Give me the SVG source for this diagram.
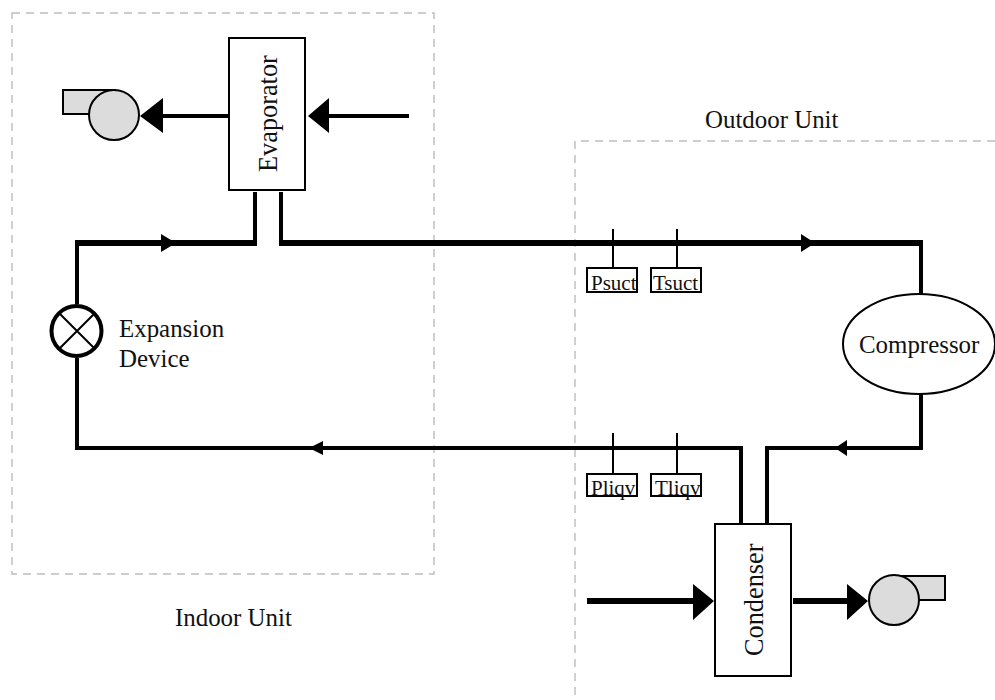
<svg xmlns="http://www.w3.org/2000/svg" width="995" height="700" viewBox="0 0 995 700">
<style>
text{font-family:"Liberation Serif","Times New Roman",serif;fill:#111}
.l{font-size:24.9px}
.r{font-size:26.3px}
.s{font-size:21px}
.b{fill:#fff;stroke:#000;stroke-width:2}
.d{fill:none;stroke:#bdbdbd;stroke-width:1.4;stroke-dasharray:8 6}
.p{fill:none;stroke:#000;stroke-width:4}
.h{fill:none;stroke:#000;stroke-width:6}
.f{fill:#dcdcdc;stroke:#000;stroke-width:2}
.t{fill:none;stroke:#000;stroke-width:2}
</style>
<rect width="995" height="700" fill="#fff"/>
<g id="indoor-unit"><rect class="d" x="12" y="13" width="422" height="561"/><text class="l" x="175" y="626">Indoor Unit</text></g>
<g id="outdoor-unit"><path class="d" d="M575 695V141H995"/><text class="l" x="705" y="128">Outdoor Unit</text></g>
<g id="connectors">
<path class="p" d="M255 192V243M77 243V304M77 358V448H741V523"/>
<path class="p" d="M281 192V243M921 243V294M921 394V448H767V523"/>
<path class="h" d="M75 243H257M279 243H923"/>
<path class="p" d="M229 116H160M409 116H329"/>
<path class="h" d="M587 601H695M793 601H849"/>
<path d="M140 116L163 98V133ZM308 116L329 98V133ZM714 601L693 584V620ZM868 601L847 584V620Z"/>
<path d="M176 243L161 234V252ZM815 243L801 234V252ZM309 448L323 441V455ZM835 448L847 440V456Z"/>
<path class="t" d="M613 229V268M677 229V268M613 433V474M677 433V474"/>
</g>
<g id="evaporator"><rect class="b" x="229" y="38" width="76" height="152"/><text class="r" transform="translate(277 172) rotate(-90)">Evaporator</text></g>
<g id="condenser"><rect class="b" x="715" y="524" width="76" height="152"/><text class="r" transform="translate(763 656) rotate(-90)">Condenser</text></g>
<g id="compressor"><ellipse class="b" cx="919" cy="344" rx="76" ry="50"/><text class="l" x="859" y="353">Compressor</text></g>
<g id="expansion-device"><circle cx="76.500" cy="331" r="25" fill="#fff" stroke="#000" stroke-width="4"/><path class="t" d="M59 313L95 349M95 313L59 349"/><text class="l" x="119" y="337">Expansion</text><text class="l" x="119" y="367">Device</text></g>
<g id="indoor-fan"><rect class="f" x="63" y="90" width="52" height="24"/><circle class="f" cx="114" cy="115" r="25"/></g>
<g id="outdoor-fan"><rect class="f" x="894" y="576" width="51" height="24"/><circle class="f" cx="894" cy="600" r="25"/></g>
<g id="psuct"><rect class="b" x="587" y="268" width="50" height="24"/><text class="s" x="591" y="290">Psuct</text></g>
<g id="tsuct"><rect class="b" x="651" y="268" width="50" height="24"/><text class="s" x="653" y="290">Tsuct</text></g>
<g id="pliqv"><rect class="b" x="587" y="474" width="50" height="22"/><text class="s" x="591" y="495">Pliqv</text></g>
<g id="tliqv"><rect class="b" x="651" y="474" width="50" height="22"/><text class="s" x="655" y="495">Tliqv</text></g>
</svg>
